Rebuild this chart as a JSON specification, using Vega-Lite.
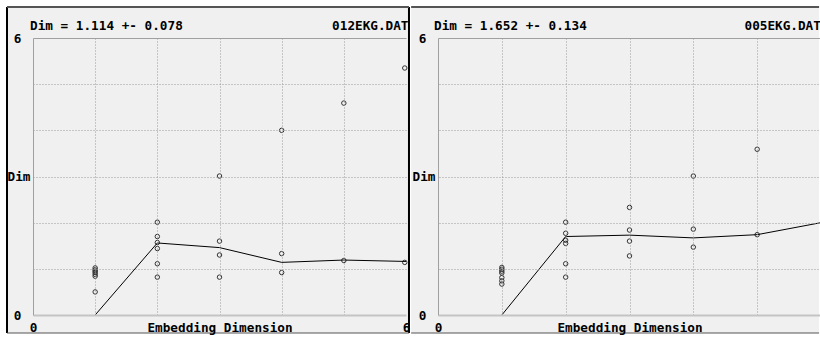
{
  "$schema": "https://vega.github.io/schema/vega-lite/v6.json",
  "background": "white",
  "padding": {"left": 6, "top": 6, "right": 0, "bottom": 0},
  "config": {
    "view": {"stroke": null},
    "concat": {"spacing": 0},
    "font": "DejaVu Sans Mono",
    "axis": {
      "labelFont": "DejaVu Sans Mono", "labelFontSize": 12.7, "labelFontWeight": "bold", "labelColor": "#000",
      "titleFont": "DejaVu Sans Mono", "titleFontSize": 12.7, "titleFontWeight": "bold", "titleColor": "#000",
      "ticks": false, "labelFlush": false, "labelOverlap": false
    }
  },
  "datasets": {
    "pts_a": [
      {"x": 1, "y": 1.02}, {"x": 1, "y": 0.98}, {"x": 1, "y": 0.95}, {"x": 1, "y": 0.92}, {"x": 1, "y": 0.88}, {"x": 1, "y": 0.84}, {"x": 1, "y": 0.50},
      {"x": 2, "y": 2.01}, {"x": 2, "y": 1.70}, {"x": 2, "y": 1.57}, {"x": 2, "y": 1.44}, {"x": 2, "y": 1.11}, {"x": 2, "y": 0.82},
      {"x": 3, "y": 3.01}, {"x": 3, "y": 1.60}, {"x": 3, "y": 1.30}, {"x": 3, "y": 0.82},
      {"x": 4, "y": 4.00}, {"x": 4, "y": 1.33}, {"x": 4, "y": 0.92},
      {"x": 5, "y": 4.59}, {"x": 5, "y": 1.18},
      {"x": 5.98, "y": 5.35}, {"x": 5.98, "y": 1.14}
    ],
    "line_a": [
      {"x": 1, "y": 0}, {"x": 2, "y": 1.56}, {"x": 3, "y": 1.46}, {"x": 4, "y": 1.14}, {"x": 5, "y": 1.19}, {"x": 6, "y": 1.16}
    ],
    "pts_b": [
      {"x": 1, "y": 1.03}, {"x": 1, "y": 0.99}, {"x": 1, "y": 0.95}, {"x": 1, "y": 0.91}, {"x": 1, "y": 0.81}, {"x": 1, "y": 0.74}, {"x": 1, "y": 0.67},
      {"x": 2, "y": 2.01}, {"x": 2, "y": 1.77}, {"x": 2, "y": 1.62}, {"x": 2, "y": 1.55}, {"x": 2, "y": 1.11}, {"x": 2, "y": 0.82},
      {"x": 3, "y": 2.33}, {"x": 3, "y": 1.84}, {"x": 3, "y": 1.60}, {"x": 3, "y": 1.28},
      {"x": 4, "y": 3.01}, {"x": 4, "y": 1.86}, {"x": 4, "y": 1.47},
      {"x": 5, "y": 3.59}, {"x": 5, "y": 1.74}
    ],
    "line_b": [
      {"x": 1, "y": 0}, {"x": 2, "y": 1.70}, {"x": 3, "y": 1.73}, {"x": 4, "y": 1.67}, {"x": 5, "y": 1.74}, {"x": 6, "y": 2.0}
    ]
  },
  "hconcat": [
    {
      "width": 373,
      "height": 277,
      "layer": [
        {
          "data": {"values": [{}]},
          "mark": {"type": "rect", "fill": "#f0f0f0"},
          "encoding": {
            "x": {"datum": -0.4182, "type": "quantitative", "axis": null, "scale": {"domain": [0, 6]}},
            "x2": {"datum": 6.048},
            "y": {"datum": -0.39, "type": "quantitative", "axis": null, "scale": {"domain": [0, 6]}},
            "y2": {"datum": 6.671}
          }
        },
        {
          "data": {"name": "pts_a"},
          "mark": {"type": "point", "shape": "circle", "size": 20, "filled": false, "stroke": "#333", "strokeWidth": 1, "opacity": 1},
          "encoding": {
            "x": {"field": "x", "type": "quantitative", "scale": {"domain": [0, 6]},
              "axis": {"orient": "bottom", "zindex": 1, "values": [0, 6], "grid": false, "domain": true, "domainColor": "#c4c4c4", "domainWidth": 2,
                "labelPadding": 6, "title": "Embedding Dimension", "titleY": 6, "titleBaseline": "top"}},
            "y": {"field": "y", "type": "quantitative", "scale": {"domain": [0, 6]},
              "axis": {"orient": "left", "zindex": 1, "values": [0, 6], "grid": false, "domain": true, "domainColor": "#a0a0a0", "domainWidth": 1,
                "labelPadding": 12, "labelBaseline": "middle", "title": "Dim", "titleAngle": 0, "titleX": -26, "titleY": 138.5, "titleAlign": "left", "titleBaseline": "middle"}}
          }
        },
        {
          "data": {"name": "line_a"},
          "mark": {"type": "line", "color": "#000", "strokeWidth": 1},
          "encoding": {
            "x": {"field": "x", "type": "quantitative", "scale": {"domain": [0, 6]},
              "axis": {"orient": "top", "zindex": 1, "values": [1, 2, 3, 4, 5], "grid": true, "gridColor": "#9a9a9a", "gridDash": [1, 2], "labels": false, "domain": true, "domainColor": "#a0a0a0",
                "title": "012EKG.DAT", "titleX": 375, "titleY": -8.5, "titleAlign": "right", "titleBaseline": "alphabetic"}},
            "y": {"field": "y", "type": "quantitative", "scale": {"domain": [0, 6]},
              "axis": {"orient": "right", "zindex": 1, "values": [1, 2, 3, 4, 5], "grid": true, "gridColor": "#9a9a9a", "gridDash": [1, 2], "labels": false, "domain": false, "title": null}}
          }
        },
        {
          "data": {"values": [{}]},
          "mark": {"type": "text", "text": "Dim = 1.114 +- 0.078", "align": "left", "baseline": "alphabetic", "dx": -3, "dy": -8.5,
            "font": "DejaVu Sans Mono", "fontSize": 12.7, "fontWeight": "bold", "color": "#000"},
          "encoding": {
            "x": {"datum": 0, "type": "quantitative", "axis": null},
            "y": {"datum": 6, "type": "quantitative", "axis": null}
          }
        },
        {
          "data": {"values": [{}]},
          "mark": {"type": "rule", "color": "#000", "strokeWidth": 2},
          "encoding": {
            "x": {"datum": -0.4182, "type": "quantitative", "axis": null},
            "y": {"datum": -0.39, "type": "quantitative", "axis": null},
            "y2": {"datum": 6.671}
          }
        },
        {
          "data": {"values": [{}]},
          "mark": {"type": "rule", "color": "#000", "strokeWidth": 2},
          "encoding": {
            "x": {"datum": 6.048, "type": "quantitative", "axis": null},
            "y": {"datum": -0.39, "type": "quantitative", "axis": null},
            "y2": {"datum": 6.671}
          }
        },
        {
          "data": {"values": [{}]},
          "mark": {"type": "rule", "color": "#555", "strokeWidth": 2},
          "encoding": {
            "x": {"datum": -0.4182, "type": "quantitative", "axis": null},
            "x2": {"datum": 6.048},
            "y": {"datum": 6.671, "type": "quantitative", "axis": null}
          }
        },
        {
          "data": {"values": [{}]},
          "mark": {"type": "rule", "color": "#555", "strokeWidth": 1},
          "encoding": {
            "x": {"datum": -0.4182, "type": "quantitative", "axis": null},
            "x2": {"datum": 6.048},
            "y": {"datum": -0.39, "type": "quantitative", "axis": null}
          }
        }
      ],
      "resolve": {"axis": {"x": "independent", "y": "independent"}}
    },
    {
      "width": 383,
      "height": 277,
      "layer": [
        {
          "data": {"values": [{}]},
          "mark": {"type": "rect", "fill": "#f0f0f0"},
          "encoding": {
            "x": {"datum": -0.421, "type": "quantitative", "axis": null, "scale": {"domain": [0, 5.97]}},
            "x2": {"datum": 5.97},
            "y": {"datum": -0.39, "type": "quantitative", "axis": null, "scale": {"domain": [0, 6]}},
            "y2": {"datum": 6.671}
          }
        },
        {
          "data": {"name": "pts_b"},
          "mark": {"type": "point", "shape": "circle", "size": 20, "filled": false, "stroke": "#333", "strokeWidth": 1, "opacity": 1},
          "encoding": {
            "x": {"field": "x", "type": "quantitative", "scale": {"domain": [0, 5.97]},
              "axis": {"orient": "bottom", "zindex": 1, "values": [0], "grid": false, "domain": true, "domainColor": "#c4c4c4", "domainWidth": 2,
                "labelPadding": 6, "title": "Embedding Dimension", "titleY": 6, "titleBaseline": "top"}},
            "y": {"field": "y", "type": "quantitative", "scale": {"domain": [0, 6]},
              "axis": {"orient": "left", "zindex": 1, "values": [0, 6], "grid": false, "domain": true, "domainColor": "#a0a0a0", "domainWidth": 1,
                "labelPadding": 12, "labelBaseline": "middle", "title": "Dim", "titleAngle": 0, "titleX": -26, "titleY": 138.5, "titleAlign": "left", "titleBaseline": "middle"}}
          }
        },
        {
          "data": {"name": "line_b"},
          "mark": {"type": "line", "color": "#000", "strokeWidth": 1, "clip": true},
          "encoding": {
            "x": {"field": "x", "type": "quantitative", "scale": {"domain": [0, 5.97]},
              "axis": {"orient": "top", "zindex": 1, "values": [1, 2, 3, 4, 5], "grid": true, "gridColor": "#9a9a9a", "gridDash": [1, 2], "labels": false, "domain": true, "domainColor": "#a0a0a0",
                "title": "005EKG.DAT", "titleX": 306, "titleY": -8.5, "titleAlign": "left", "titleBaseline": "alphabetic"}},
            "y": {"field": "y", "type": "quantitative", "scale": {"domain": [0, 6]},
              "axis": {"orient": "right", "zindex": 1, "values": [1, 2, 3, 4, 5], "grid": true, "gridColor": "#9a9a9a", "gridDash": [1, 2], "labels": false, "domain": false, "title": null}}
          }
        },
        {
          "data": {"values": [{}]},
          "mark": {"type": "text", "text": "Dim = 1.652 +- 0.134", "align": "left", "baseline": "alphabetic", "dx": -4, "dy": -8.5,
            "font": "DejaVu Sans Mono", "fontSize": 12.7, "fontWeight": "bold", "color": "#000"},
          "encoding": {
            "x": {"datum": 0, "type": "quantitative", "axis": null},
            "y": {"datum": 6, "type": "quantitative", "axis": null}
          }
        },
        {
          "data": {"values": [{}]},
          "mark": {"type": "rule", "color": "#555", "strokeWidth": 2},
          "encoding": {
            "x": {"datum": -0.421, "type": "quantitative", "axis": null},
            "x2": {"datum": 5.97},
            "y": {"datum": 6.671, "type": "quantitative", "axis": null}
          }
        },
        {
          "data": {"values": [{}]},
          "mark": {"type": "rule", "color": "#555", "strokeWidth": 1},
          "encoding": {
            "x": {"datum": -0.421, "type": "quantitative", "axis": null},
            "x2": {"datum": 5.97},
            "y": {"datum": -0.39, "type": "quantitative", "axis": null}
          }
        }
      ],
      "resolve": {"axis": {"x": "independent", "y": "independent"}}
    }
  ]
}
